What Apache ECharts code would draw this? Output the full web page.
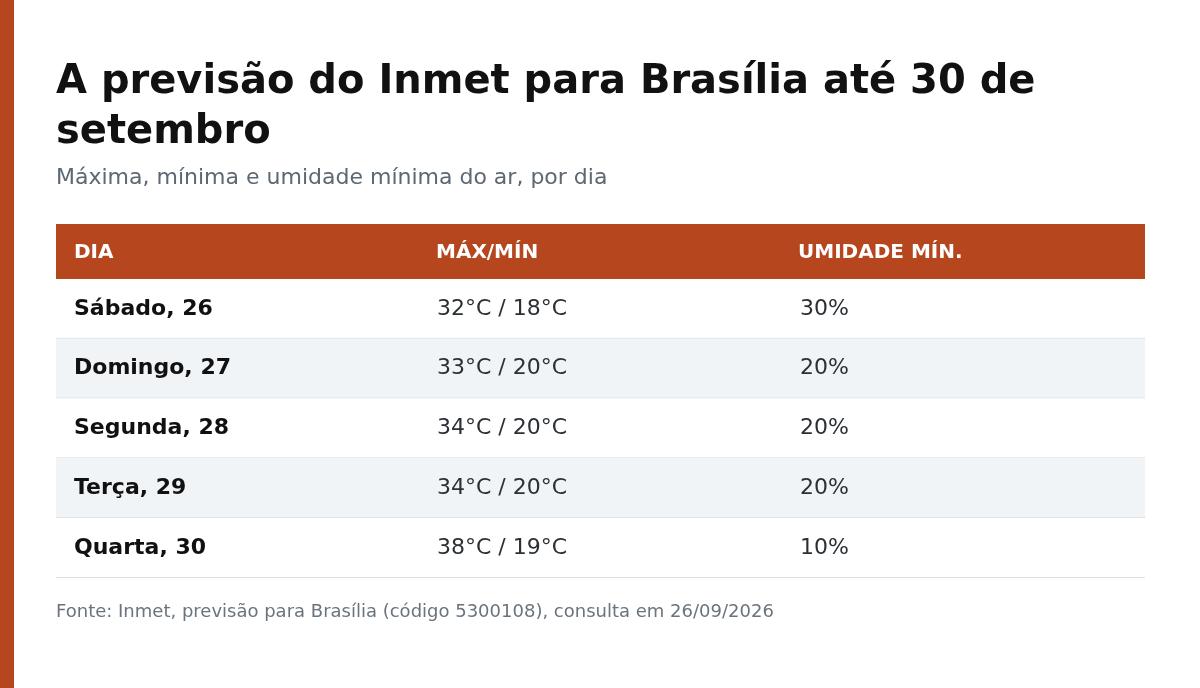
<!DOCTYPE html>
<html><head><meta charset="utf-8">
<script src="https://cdn.jsdelivr.net/npm/echarts@6/dist/echarts.min.js"></script>
<style>html,body{margin:0;padding:0;background:#fff}#c{width:1200px;height:688px}</style>
</head><body><div id="c"></div>
<script>
const headers = ['DIA', 'MÁX/MÍN', 'UMIDADE MÍN.'];
const days = ['Sábado, 26', 'Domingo, 27', 'Segunda, 28', 'Terça, 29', 'Quarta, 30'];
const maxTemp = [32, 33, 34, 34, 38];
const minTemp = [18, 20, 20, 20, 19];
const humidity = [30, 20, 20, 20, 10];

const F = 'DejaVu Sans, sans-serif';
const data = [];
days.forEach((d, i) => {
  data.push([0, i, d]);
  data.push([1, i, maxTemp[i] + '°C / ' + minTemp[i] + '°C']);
  data.push([2, i, humidity[i] + '%']);
});
const chart = echarts.init(document.getElementById('c'));
chart.setOption({
  animation: false,
  grid: {left: 56, right: 55, top: 279, bottom: 110},
  xAxis: {type: 'value', min: 0, max: 3, show: false},
  yAxis: {type: 'category', data: days, inverse: true, show: false},
  graphic: [
    {type: 'rect', shape: {x: 0, y: 0, width: 14, height: 688}, style: {fill: '#B5461E'}},
    {type: 'text', left: 56, top: 58, style: {text: 'A previsão do Inmet para Brasília até 30 de\nsetembro', font: 'bold 40px ' + F, fill: '#111', lineHeight: 50}},
    {type: 'text', left: 56, top: 167, style: {text: 'Máxima, mínima e umidade mínima do ar, por dia', font: '22px ' + F, fill: '#5d6872'}},
    {type: 'rect', shape: {x: 56, y: 224, width: 1089, height: 55}, style: {fill: '#B5461E'}},
    ...headers.map((h, i) => ({type: 'text', x: 74 + i * 362, y: 253, style: {text: h, font: 'bold 20px ' + F, fill: '#fff', verticalAlign: 'middle'}})),
    {type: 'text', left: 56, top: 603, style: {text: 'Fonte: Inmet, previsão para Brasília (código 5300108), consulta em 26/09/2026', font: '18px ' + F, fill: '#6b747c'}}
  ],
  series: [{
    type: 'custom',
    data: data,
    renderItem: (params, api) => {
      const col = api.value(0), row = api.value(1);
      const p0 = api.coord([col, row]);
      const p1 = api.coord([col + 1, row]);
      const h = api.size([0, 1])[1];
      const top = p0[1] - h / 2;
      const children = [];
      children.push({type: 'rect', shape: {x: p0[0], y: top, width: p1[0] - p0[0], height: h},
        style: {fill: row % 2 === 1 ? '#f0f4f7' : '#ffffff'}});
      children.push({type: 'line', shape: {x1: p0[0], y1: top + h - 0.5, x2: p1[0], y2: top + h - 0.5},
        style: {stroke: '#dde1e5', lineWidth: 1}});
      children.push({type: 'text', x: p0[0] + 18, y: p0[1], style: {text: data[params.dataIndex][2],
        font: (col === 0 ? 'bold ' : '') + '22px ' + F, fill: col === 0 ? '#111' : '#2b3035', verticalAlign: 'middle'}});
      return {type: 'group', children};
    }
  }]
});
</script></body></html>
